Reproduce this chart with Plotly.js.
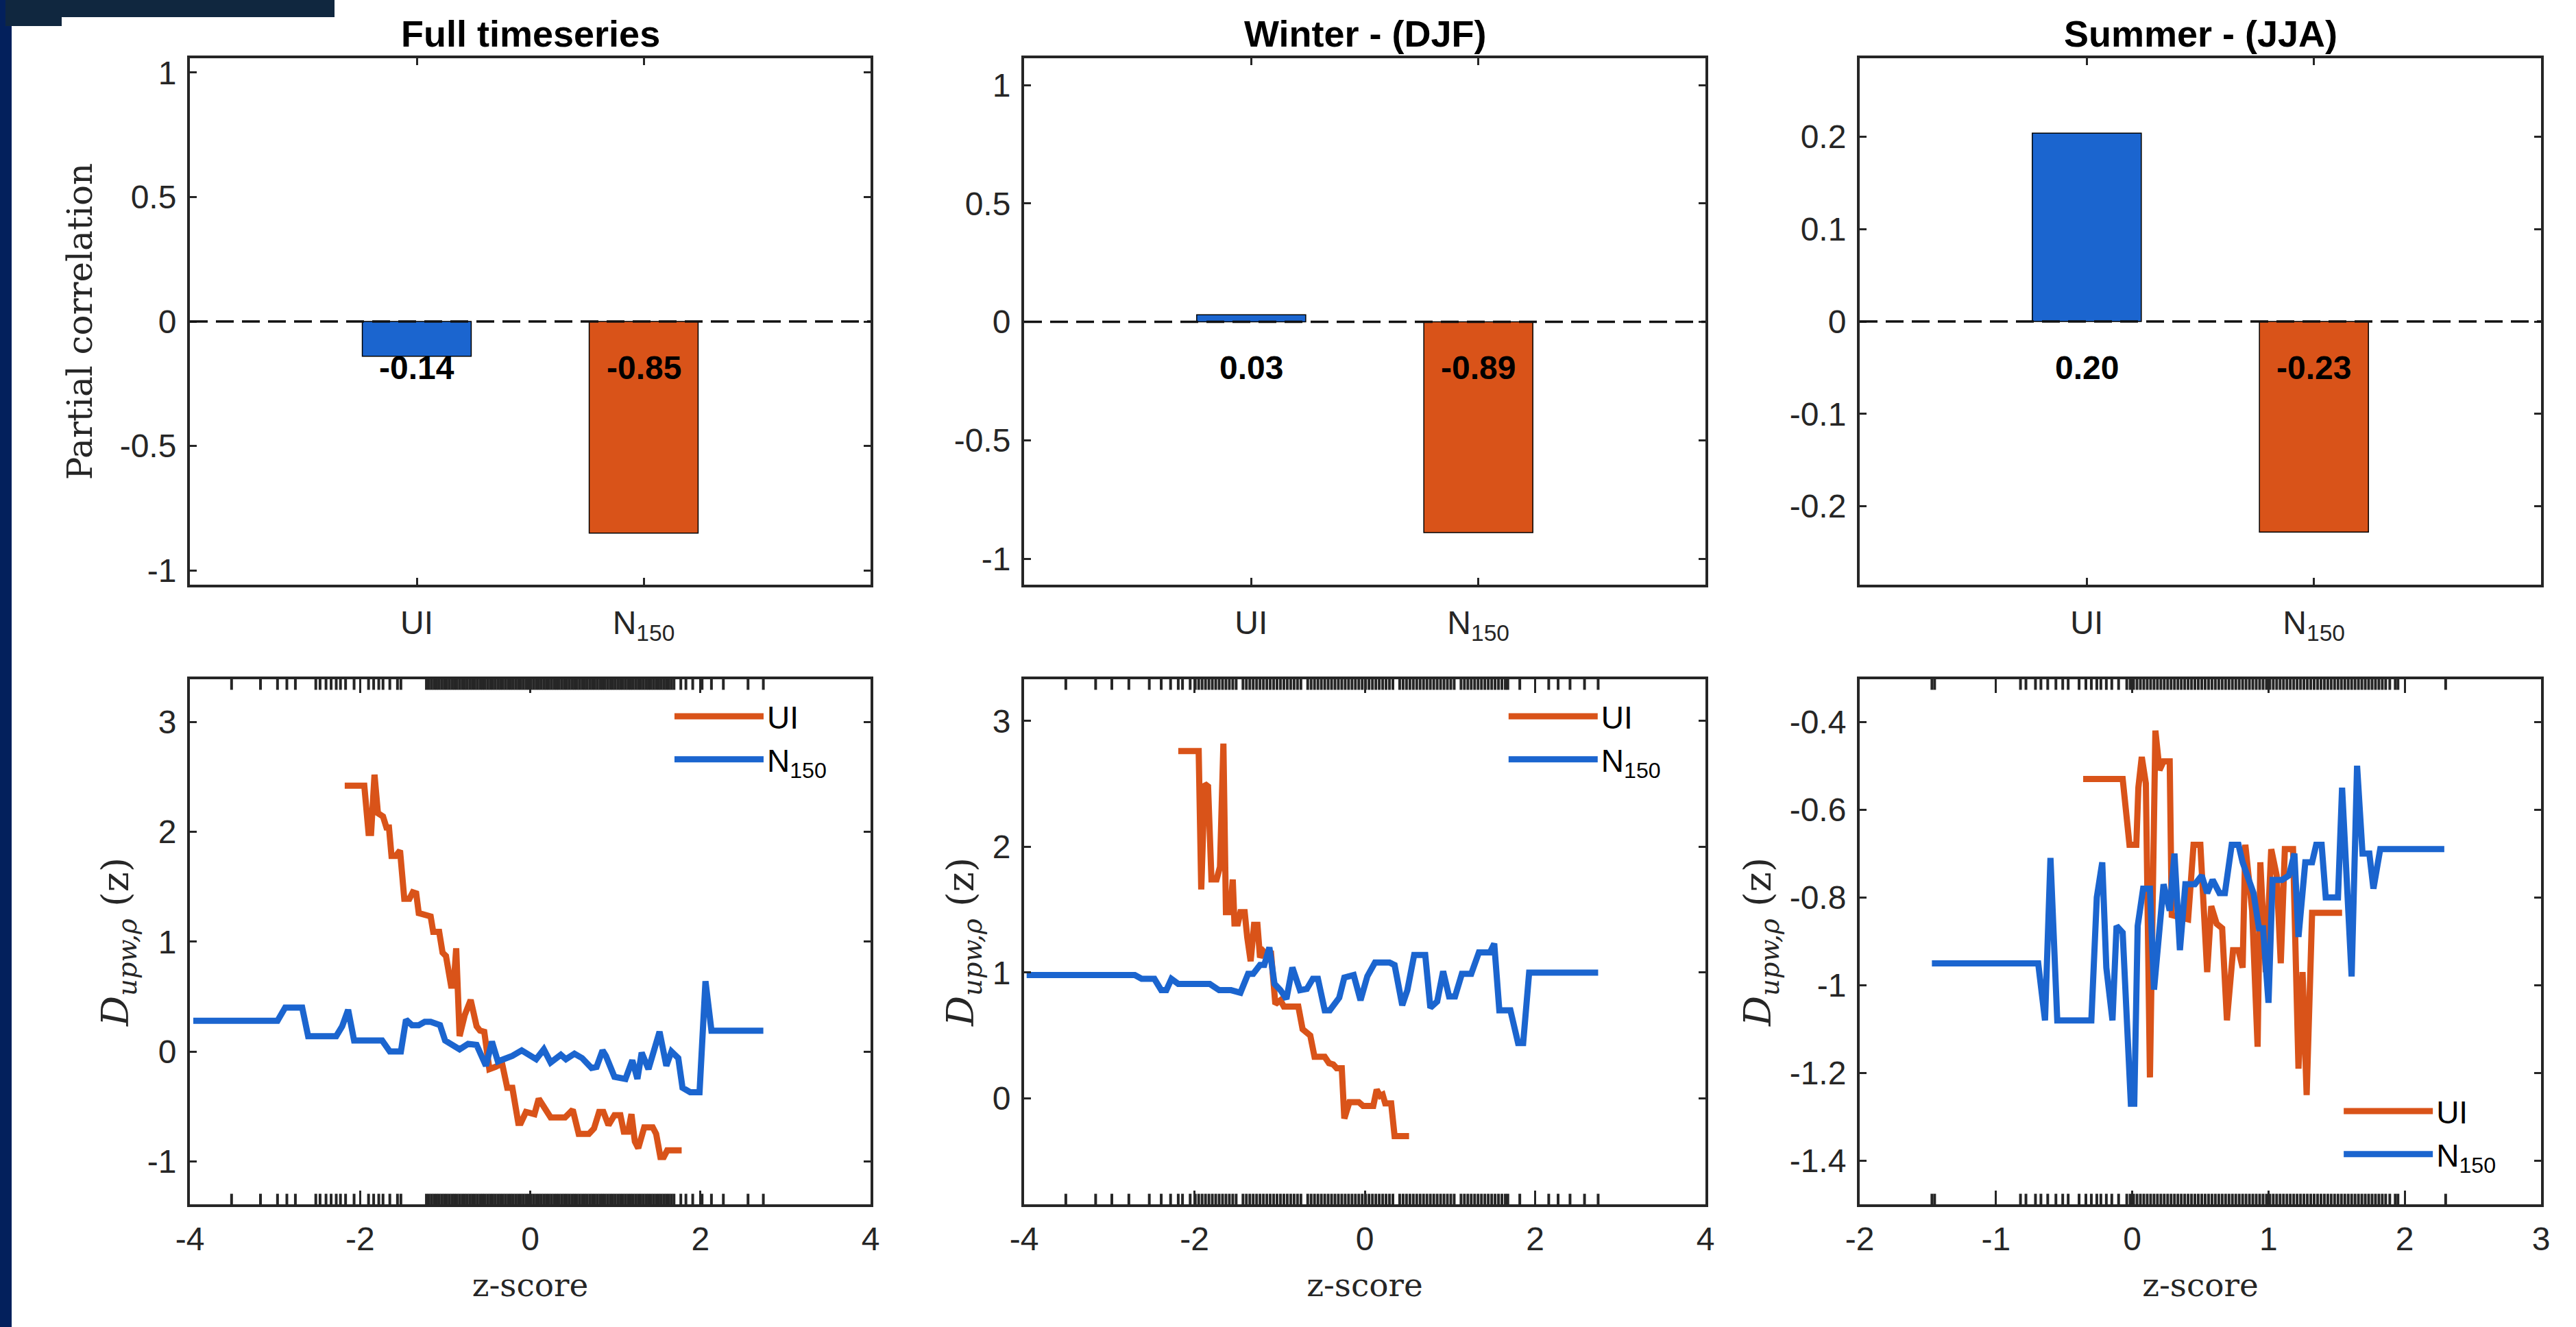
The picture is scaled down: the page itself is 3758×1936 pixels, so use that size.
<!DOCTYPE html>
<html>
<head>
<meta charset="utf-8">
<script src="https://cdn.plot.ly/plotly-3.0.1.min.js"></script>
<style>
html,body{margin:0;padding:0;background:#ffffff;}
#chart{width:3758px;height:1936px;}
</style>
</head>
<body>
<div id="chart"></div>
<script>
// ---------------- DATA ----------------
const categories = ['UI', 'N<sub>150</sub>'];
const catPos = [1, 2];
const panelTitles = ['Full timeseries', 'Winter - (DJF)', 'Summer - (JJA)'];

const corrFull = [-0.14, -0.85];
const corrWinter = [0.03, -0.89];
const corrSummer = [0.204, -0.228];

const seriesNames = ['UI', 'N<sub>150</sub>'];

// Full timeseries: D(z) curves
const fullUIx = [-2.18,-1.95,-1.90,-1.87,-1.83,-1.79,-1.73,-1.69,-1.66,-1.63,-1.58,-1.53,-1.48,-1.42,-1.38,-1.34,-1.31,-1.24,-1.17,-1.14,-1.07,-1.03,-0.99,-0.93,-0.90,-0.87,-0.83,-0.77,-0.70,-0.63,-0.59,-0.54,-0.48,-0.41,-0.33,-0.27,-0.21,-0.14,-0.11,-0.05,0.05,0.10,0.16,0.24,0.41,0.50,0.57,0.69,0.75,0.81,0.86,0.92,0.99,1.06,1.10,1.15,1.19,1.23,1.27,1.34,1.44,1.48,1.53,1.57,1.61,1.78];
const fullUIy = [2.42,2.42,1.99,1.99,2.52,2.17,2.14,2.04,2.04,1.78,1.78,1.83,1.39,1.39,1.45,1.44,1.26,1.24,1.23,1.09,1.09,0.90,0.87,0.60,0.60,0.94,0.14,0.33,0.47,0.23,0.19,0.18,-0.16,-0.14,-0.11,-0.33,-0.33,-0.65,-0.65,-0.55,-0.57,-0.43,-0.50,-0.60,-0.60,-0.53,-0.75,-0.75,-0.70,-0.55,-0.55,-0.67,-0.58,-0.58,-0.73,-0.73,-0.57,-0.82,-0.88,-0.69,-0.69,-0.75,-0.96,-0.96,-0.90,-0.90];
const fullNx = [-3.96,-2.97,-2.88,-2.68,-2.61,-2.28,-2.21,-2.14,-2.07,-1.74,-1.65,-1.52,-1.46,-1.39,-1.31,-1.24,-1.17,-1.06,-1.00,-0.91,-0.83,-0.73,-0.63,-0.52,-0.45,-0.38,-0.21,-0.10,0.07,0.16,0.24,0.36,0.42,0.52,0.61,0.72,0.78,0.85,0.89,0.99,1.12,1.20,1.26,1.31,1.39,1.52,1.60,1.66,1.74,1.79,1.88,1.99,2.06,2.13,2.74];
const fullNy = [0.28,0.28,0.40,0.40,0.14,0.14,0.23,0.38,0.10,0.10,0.00,0.00,0.29,0.24,0.24,0.27,0.27,0.24,0.10,0.06,0.02,0.07,0.06,-0.13,0.09,-0.09,-0.04,0.01,-0.07,0.02,-0.10,-0.03,-0.07,-0.02,-0.06,-0.15,-0.14,0.01,-0.04,-0.23,-0.25,-0.08,-0.25,-0.01,-0.16,0.18,-0.13,0.00,-0.06,-0.33,-0.37,-0.37,0.64,0.19,0.19];

// Winter (DJF)
const winUIx = [-2.19,-1.95,-1.92,-1.88,-1.84,-1.80,-1.74,-1.70,-1.66,-1.63,-1.58,-1.55,-1.53,-1.49,-1.46,-1.41,-1.38,-1.34,-1.30,-1.26,-1.23,-1.19,-1.16,-1.10,-1.05,-0.99,-0.95,-0.78,-0.73,-0.68,-0.64,-0.59,-0.47,-0.42,-0.37,-0.33,-0.27,-0.24,-0.18,-0.07,-0.02,0.10,0.14,0.18,0.21,0.24,0.31,0.35,0.52];
const winUIy = [2.76,2.76,1.66,2.50,2.48,1.74,1.74,1.84,2.82,1.48,1.48,1.74,1.39,1.39,1.48,1.48,1.28,1.09,1.38,1.38,1.12,1.17,1.15,1.15,0.75,0.78,0.73,0.73,0.55,0.53,0.50,0.33,0.33,0.28,0.27,0.24,0.24,-0.16,-0.03,-0.03,-0.06,-0.06,0.07,0.02,0.03,-0.04,-0.04,-0.30,-0.30];
const winNx = [-3.97,-2.70,-2.62,-2.47,-2.39,-2.33,-2.27,-2.19,-1.82,-1.71,-1.57,-1.46,-1.37,-1.31,-1.23,-1.18,-1.12,-1.06,-0.99,-0.92,-0.85,-0.76,-0.68,-0.61,-0.55,-0.47,-0.41,-0.30,-0.24,-0.13,-0.05,0.03,0.12,0.29,0.35,0.44,0.50,0.58,0.71,0.77,0.85,0.92,0.99,1.06,1.14,1.25,1.34,1.47,1.52,1.58,1.71,1.80,1.86,1.93,2.74];
const winNy = [0.98,0.98,0.95,0.95,0.86,0.86,0.95,0.91,0.91,0.86,0.86,0.84,0.99,0.99,1.06,1.06,1.20,0.91,0.86,0.79,1.04,0.86,0.87,0.95,0.95,0.70,0.70,0.80,0.96,0.98,0.78,0.97,1.08,1.08,1.06,0.74,0.86,1.14,1.14,0.72,0.77,1.01,0.81,0.81,0.99,0.99,1.16,1.16,1.23,0.70,0.70,0.44,0.44,1.00,1.00];

// Summer (JJA)
const sumUIx = [-0.36,-0.07,-0.02,0.03,0.045,0.07,0.10,0.13,0.17,0.20,0.23,0.275,0.29,0.41,0.45,0.50,0.55,0.58,0.62,0.66,0.695,0.74,0.78,0.81,0.83,0.88,0.92,0.94,0.98,1.02,1.06,1.09,1.12,1.18,1.22,1.25,1.28,1.32,1.54];
const sumUIy = [-0.53,-0.53,-0.68,-0.68,-0.55,-0.48,-0.54,-1.21,-0.42,-0.51,-0.49,-0.49,-0.84,-0.85,-0.68,-0.68,-0.97,-0.82,-0.86,-0.87,-1.08,-0.92,-0.92,-0.96,-0.68,-0.83,-1.14,-0.72,-0.97,-0.69,-0.75,-0.95,-0.69,-0.69,-1.19,-0.97,-1.25,-0.835,-0.835];
const sumNx = [-1.47,-0.69,-0.64,-0.60,-0.55,-0.30,-0.26,-0.22,-0.19,-0.145,-0.115,-0.07,-0.01,0.015,0.04,0.08,0.13,0.16,0.23,0.275,0.31,0.35,0.39,0.42,0.46,0.51,0.55,0.59,0.64,0.68,0.73,0.78,0.81,0.89,0.93,0.96,1.00,1.03,1.10,1.15,1.19,1.22,1.27,1.32,1.35,1.39,1.42,1.51,1.54,1.61,1.65,1.69,1.74,1.77,1.82,2.29];
const sumNy = [-0.95,-0.95,-1.08,-0.71,-1.08,-1.08,-0.80,-0.72,-0.96,-1.08,-0.865,-0.88,-1.27,-1.27,-0.865,-0.78,-0.78,-1.01,-0.77,-0.83,-0.70,-0.92,-0.77,-0.77,-0.77,-0.75,-0.79,-0.76,-0.79,-0.79,-0.68,-0.68,-0.72,-0.79,-0.87,-0.87,-1.04,-0.76,-0.76,-0.75,-0.70,-0.89,-0.72,-0.72,-0.68,-0.68,-0.80,-0.80,-0.55,-0.98,-0.50,-0.70,-0.70,-0.78,-0.69,-0.69];

// Rug (z-score of observations) for each lower panel
const rugFull = [-3.51,-3.17,-2.97,-2.86,-2.76,-2.52,-2.47,-2.40,-2.34,-2.28,-2.23,-2.17,-2.07,-1.90,-1.84,-1.78,-1.73,-1.65,-1.56,-1.52,
 -1.22,-1.19,-1.16,-1.13,-1.10,-1.07,-1.04,-1.01,-0.98,-0.95,-0.92,-0.89,-0.86,-0.83,-0.80,-0.77,-0.74,-0.71,-0.68,-0.65,-0.62,-0.59,-0.56,-0.53,-0.50,-0.47,-0.44,-0.41,-0.38,-0.35,-0.32,-0.29,-0.26,-0.23,-0.20,-0.17,-0.14,-0.11,-0.08,-0.05,-0.02,0.01,0.04,0.07,0.10,0.13,0.16,0.19,0.22,0.25,0.28,0.31,0.34,0.37,0.40,0.43,0.46,0.49,0.52,0.55,0.58,0.61,0.64,0.67,0.70,0.73,0.76,0.79,0.82,0.85,0.88,0.91,0.94,0.97,1.00,1.03,1.06,1.09,1.12,1.15,1.18,1.21,1.24,1.27,1.30,1.33,1.36,1.39,1.42,1.45,1.48,1.51,1.54,1.57,1.60,1.63,1.66,1.69,
 1.77,1.83,1.91,2.02,2.13,2.27,2.56,2.74];
const rugWinter = [-3.51,-3.16,-2.97,-2.77,-2.53,-2.39,-2.28,-2.19,-2.14,-2.05,
 -1.99,-1.95,-1.91,-1.87,-1.83,-1.79,-1.75,-1.71,-1.67,-1.63,-1.59,-1.55,-1.51,-1.43,-1.39,-1.35,-1.31,-1.27,-1.23,-1.19,-1.15,-1.11,-1.07,-1.03,-0.99,-0.95,-0.91,-0.87,-0.83,-0.79,-0.75,-0.67,-0.63,-0.59,-0.55,-0.51,-0.47,-0.43,-0.39,-0.35,-0.31,-0.27,-0.23,-0.19,-0.15,-0.11,-0.07,-0.03,0.01,0.05,0.09,0.13,0.17,0.21,0.25,0.29,0.33,0.41,0.45,0.49,0.53,0.57,0.61,0.65,0.69,0.73,0.77,0.81,0.85,0.89,0.93,0.97,1.01,1.05,1.13,1.17,1.21,1.25,1.29,1.33,1.37,1.41,1.45,1.49,1.53,1.57,1.61,1.65,1.68,
 1.82,2.16,2.27,2.41,2.58,2.74];
const rugSummer = [-1.47,-1.45,-0.82,-0.78,-0.71,-0.67,-0.62,-0.56,-0.51,-0.47,-0.39,-0.34,-0.30,-0.26,-0.23,-0.19,-0.15,-0.10,
 -0.04,-0.015,0.01,0.035,0.06,0.085,0.11,0.135,0.16,0.185,0.21,0.235,0.26,0.285,0.31,0.335,0.36,0.385,0.41,0.435,0.46,0.485,0.51,0.535,0.56,0.585,0.61,0.635,0.66,0.685,0.71,0.735,0.76,0.785,0.81,0.835,0.86,0.885,0.91,0.935,0.96,0.985,1.01,1.035,1.06,1.085,1.11,1.135,1.16,1.185,1.21,1.235,1.26,1.285,1.31,1.335,1.36,1.385,1.41,1.435,1.46,1.485,1.51,1.535,1.56,1.585,1.61,1.635,1.66,1.685,1.71,1.735,1.76,1.785,1.81,1.835,1.86,1.89,
 1.93,1.95,2.30];

// Axis ticks and labels
const topYTicksA = [-1, -0.5, 0, 0.5, 1];
const topYLabelsA = ['-1', '-0.5', '0', '0.5', '1'];
const topYTicksB = [-0.2, -0.1, 0, 0.1, 0.2];
const topYLabelsB = ['-0.2', '-0.1', '0', '0.1', '0.2'];
const botYTicksA = [-1, 0, 1, 2, 3];
const botYLabelsA = ['-1', '0', '1', '2', '3'];
const botYTicksC = [-1.4, -1.2, -1, -0.8, -0.6, -0.4];
const botYLabelsC = ['-1.4', '-1.2', '-1', '-0.8', '-0.6', '-0.4'];
const botXTicksA = [-4, -2, 0, 2, 4];
const botXLabelsA = ['-4', '-2', '0', '2', '4'];
const botXTicksC = [-2, -1, 0, 1, 2, 3];
const botXLabelsC = ['-2', '-1', '0', '1', '2', '3'];

// ---------------- STYLE / LAYOUT ----------------
const W = 3758, H = 1936;
const BLUE = '#1b65cf', ORANGE = '#d95319', AXC = '#262626';
const SANS = 'Liberation Sans, Arial, Helvetica, sans-serif';
const SERIF = 'DejaVu Serif, Liberation Serif, serif';
const colPx = [[277, 1270], [1494, 2488], [2713, 3707]];
const rowPx = [[85, 853], [991, 1757]];
const xd = c => [colPx[c][0] / W, colPx[c][1] / W];
const yd = r => [1 - rowPx[r][1] / H, 1 - rowPx[r][0] / H];
const aid = n => (n === 1 ? '' : String(n));

const tickFont = {family: SANS, size: 48, color: AXC};
const axBase = () => ({
  showline: true, linewidth: 4, linecolor: AXC, mirror: 'ticks',
  ticks: 'inside', tickcolor: AXC, tickwidth: 3, showgrid: false,
  zeroline: false, tickfont: tickFont, fixedrange: true, tickmode: 'array',
  ticklabelstandoff: 6
});

const layout = {
  width: W, height: H, autosize: false,
  margin: {l: 0, r: 0, t: 0, b: 0, pad: 0},
  paper_bgcolor: '#ffffff', plot_bgcolor: '#ffffff',
  showlegend: true, hovermode: false,
  annotations: [], shapes: []
};

const corrSets = [corrFull, corrWinter, corrSummer];
const topRanges = [[-1.057, 1.057], [-1.11, 1.113], [-0.285, 0.285]];
const topTicks = [[topYTicksA, topYLabelsA], [topYTicksA, topYLabelsA], [topYTicksB, topYLabelsB]];
const botRanges = [[-1.391, 3.389], [-0.842, 3.331], [-1.499, -0.303]];
const botXRanges = [[-4, 4], [-4, 4], [-2, 3]];
const botYT = [[botYTicksA, botYLabelsA], [botYTicksA, botYLabelsA], [botYTicksC, botYLabelsC]];
const botXT = [[botXTicksA, botXLabelsA], [botXTicksA, botXLabelsA], [botXTicksC, botXLabelsC]];
const lines = [
  [[fullUIx, fullUIy], [fullNx, fullNy]],
  [[winUIx, winUIy], [winNx, winNy]],
  [[sumUIx, sumUIy], [sumNx, sumNy]]
];
const rugs = [rugFull, rugWinter, rugSummer];
const legendPos = [
  {x: 0.2605, y: 0.4790},
  {x: 0.5843, y: 0.4790},
  {x: 0.9085, y: 0.1815}
];

const traces = [];
for (let c = 0; c < 3; c++) {
  // ---- top row: bar chart ----
  const nT = c + 1;
  layout['xaxis' + aid(nT)] = Object.assign(axBase(), {
    domain: xd(c), anchor: 'y' + aid(nT), range: [0, 3],
    tickvals: catPos, ticktext: categories, ticklen: 10, ticklabelstandoff: 10
  });
  layout['yaxis' + aid(nT)] = Object.assign(axBase(), {
    domain: yd(0), anchor: 'x' + aid(nT), range: topRanges[c],
    tickvals: topTicks[c][0], ticktext: topTicks[c][1], ticklen: 10
  });
  if (c === 0) {
    layout['yaxis' + aid(nT)].title = {text: 'Partial correlation', font: {family: SERIF, size: 50, color: AXC}, standoff: 25};
  }
  traces.push({
    type: 'bar', x: catPos, y: corrSets[c], width: 0.48,
    xaxis: 'x' + aid(nT), yaxis: 'y' + aid(nT), showlegend: false,
    marker: {color: [BLUE, ORANGE], line: {color: '#000000', width: 1.5}}
  });
  layout.shapes.push({
    type: 'line', xref: 'x' + aid(nT) + ' domain', x0: 0, x1: 1,
    yref: 'y' + aid(nT), y0: 0, y1: 0, layer: 'above',
    line: {color: '#111111', width: 3.5, dash: '26px,12px'}
  });
  corrSets[c].forEach((v, j) => {
    layout.annotations.push({
      xref: 'x' + aid(nT), yref: 'y' + aid(nT), x: catPos[j], y: 0,
      yanchor: 'middle', yshift: -67, showarrow: false,
      text: v.toFixed(2),
      font: {family: SANS, size: 48, color: '#000000', weight: 'bold'}
    });
  });
  layout.annotations.push({
    xref: 'x' + aid(nT) + ' domain', x: 0.5, yref: 'paper', y: 1 - 49 / H,
    yanchor: 'middle', showarrow: false, text: panelTitles[c],
    font: {family: SANS, size: 54, color: '#000000', weight: 'bold'}
  });

  // ---- bottom row: D(z) curves ----
  const nB = c + 4, nR = c + 7;
  layout['xaxis' + nB] = Object.assign(axBase(), {
    domain: xd(c), anchor: 'y' + nB, range: botXRanges[c],
    tickvals: botXT[c][0], ticktext: botXT[c][1], ticklen: 20, ticklabelstandoff: 5,
    title: {text: 'z-score', font: {family: SERIF, size: 47, color: AXC}, standoff: 26}
  });
  layout['yaxis' + nB] = Object.assign(axBase(), {
    domain: yd(1), anchor: 'x' + nB, range: botRanges[c],
    tickvals: botYT[c][0], ticktext: botYT[c][1], ticklen: 10,
    title: {text: '<i>D</i><sub><i>upw,ρ</i></sub> (z)', font: {family: SERIF, size: 55, color: AXC}, standoff: 10}
  });
  layout['yaxis' + nR] = {
    overlaying: 'y' + nB, anchor: 'x' + nB, range: [0, 1], visible: false,
    showgrid: false, zeroline: false, fixedrange: true
  };
  const legId = c === 0 ? 'legend' : 'legend' + (c + 1);
  layout[legId] = {
    x: legendPos[c].x, y: legendPos[c].y, xanchor: 'left', yanchor: 'top',
    bgcolor: 'rgba(0,0,0,0)', borderwidth: 0, itemwidth: 130, tracegroupgap: 0,
    font: {family: SANS, size: 46, color: '#000000'}
  };
  const cols = [ORANGE, BLUE];
  lines[c].forEach((s, k) => {
    traces.push({
      type: 'scatter', mode: 'lines', x: s[0], y: s[1], name: seriesNames[k],
      xaxis: 'x' + nB, yaxis: 'y' + nB, legend: legId,
      line: {color: cols[k], width: 9, shape: 'linear'}
    });
  });
  const rx = rugs[c];
  traces.push({
    type: 'scatter', mode: 'markers', x: rx.concat(rx),
    y: rx.map(() => 0).concat(rx.map(() => 1)),
    xaxis: 'x' + nB, yaxis: 'y' + nR, showlegend: false, cliponaxis: true,
    marker: {symbol: 'line-ns', size: 22, color: AXC, line: {color: AXC, width: 4}}
  });
}

// decorative frame bits of the original figure
layout.shapes.push(
  {type: 'rect', xref: 'paper', yref: 'paper', x0: 0, x1: 17 / W, y0: 0, y1: 1, fillcolor: '#03205c', line: {width: 0}, layer: 'above'},
  {type: 'rect', xref: 'paper', yref: 'paper', x0: 8 / W, x1: 488 / W, y0: 1 - 25 / H, y1: 1, fillcolor: '#10273f', line: {width: 0}, layer: 'above'},
  {type: 'rect', xref: 'paper', yref: 'paper', x0: 8 / W, x1: 90 / W, y0: 1 - 38 / H, y1: 1 - 25 / H, fillcolor: '#10273f', line: {width: 0}, layer: 'above'}
);

Plotly.newPlot('chart', traces, layout, {staticPlot: true, displayModeBar: false});
</script>
</body>
</html>
